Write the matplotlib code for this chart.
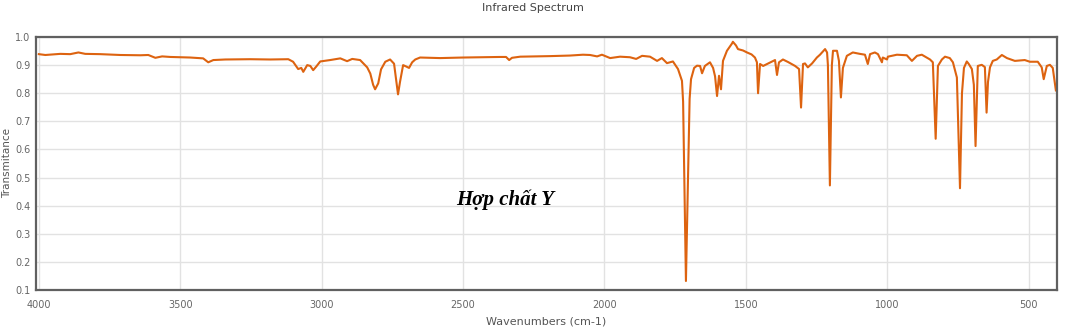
import numpy as np
import matplotlib.pyplot as plt

# IR spectrum of compound Y (wavenumber in cm-1, transmittance)
wavenumbers = [
    4000, 3977, 3924, 3889, 3860, 3836, 3783, 3712, 3641, 3613, 3588, 3564,
    3535, 3465, 3419, 3401, 3383, 3341, 3253, 3182, 3118, 3101, 3083, 3072,
    3065, 3051, 3040, 3030, 3019, 3005, 2970, 2934, 2910, 2892, 2864, 2839,
    2828, 2818, 2811, 2800, 2790, 2775, 2758, 2744, 2737, 2730, 2723, 2712,
    2701, 2691, 2680, 2669, 2652, 2581, 2500, 2440, 2369, 2348, 2337, 2327,
    2298, 2192, 2122, 2076, 2051, 2026, 2009, 1980, 1945, 1910, 1888, 1867,
    1839, 1814, 1797, 1779, 1758, 1740, 1726, 1722, 1712, 1699, 1694, 1683,
    1673, 1662, 1655, 1645, 1627, 1616, 1609, 1602, 1595, 1588, 1581, 1567,
    1549, 1546, 1535, 1528, 1510, 1496, 1480, 1468, 1461, 1457, 1450, 1439, 1425, 1397,
    1390, 1383, 1369, 1351, 1326, 1312, 1305, 1298, 1291, 1281, 1266, 1249,
    1238, 1220, 1213, 1210, 1203, 1196, 1192, 1178, 1171, 1164, 1157, 1143,
    1122, 1097, 1079, 1069, 1061, 1044, 1033, 1019, 1016, 1001, 998, 966,
    931, 913, 895, 878, 849, 839, 829, 821, 807, 796, 779, 768, 754, 743,
    736, 729, 719, 712, 701, 694, 688, 680, 666, 655, 649, 644, 637, 627,
    613, 595, 577, 549, 514, 496, 468, 454, 447, 436, 425, 415, 404,
]
transmittance = [
    0.939, 0.936, 0.940, 0.939, 0.945, 0.940, 0.939, 0.936, 0.935, 0.936, 0.926, 0.931,
    0.929, 0.927, 0.924, 0.910, 0.918, 0.920, 0.921, 0.920, 0.921, 0.912, 0.886, 0.890,
    0.876, 0.900, 0.897, 0.882, 0.895, 0.913, 0.918, 0.924, 0.914, 0.922, 0.918, 0.892,
    0.870, 0.830, 0.814, 0.835, 0.885, 0.912, 0.920, 0.905, 0.850, 0.796, 0.840, 0.900,
    0.895, 0.890, 0.910, 0.920, 0.927, 0.925, 0.927, 0.928, 0.929, 0.929, 0.918, 0.926,
    0.930, 0.932, 0.934, 0.937, 0.936, 0.931, 0.937, 0.925, 0.930, 0.928, 0.922, 0.933,
    0.930, 0.915, 0.925, 0.907, 0.913, 0.886, 0.844, 0.770, 0.132, 0.780, 0.850, 0.890,
    0.898, 0.897, 0.871, 0.897, 0.910, 0.890, 0.860, 0.790, 0.862, 0.814, 0.915, 0.951,
    0.977, 0.983, 0.970, 0.957, 0.952, 0.945, 0.938, 0.927, 0.910, 0.800, 0.904, 0.897, 0.904, 0.918,
    0.865, 0.910, 0.920, 0.911, 0.897, 0.886, 0.749, 0.904, 0.906, 0.892, 0.906, 0.927,
    0.937, 0.957, 0.945, 0.900, 0.472, 0.900, 0.951, 0.951, 0.915, 0.785, 0.890, 0.933,
    0.945, 0.940, 0.937, 0.904, 0.939, 0.945, 0.939, 0.910, 0.927, 0.920, 0.930, 0.937,
    0.935, 0.915, 0.933, 0.937, 0.920, 0.910, 0.638, 0.897, 0.920, 0.930, 0.925, 0.910, 0.856, 0.462,
    0.800, 0.890, 0.913, 0.904, 0.886, 0.830, 0.612, 0.897, 0.901, 0.893, 0.731, 0.840, 0.892, 0.915,
    0.920, 0.936, 0.925, 0.915, 0.918, 0.912, 0.912, 0.892, 0.850, 0.897, 0.901, 0.890, 0.810,
]

x_ticks = [4000, 3500, 3000, 2500, 2000, 1500, 1000, 500]
y_ticks = [0.1, 0.2, 0.3, 0.4, 0.5, 0.6, 0.7, 0.8, 0.9, 1.0]

W, H = 1066, 328
fig = plt.figure(figsize=(W / 100, H / 100), dpi=100)
ax = fig.add_axes([36 / W, 1 - 290 / H, (1057 - 36) / W, (290 - 37) / H])

ax.plot(wavenumbers, transmittance, color="#DD6310", lw=1.5)

ax.set_xlim(4010, 400)
ax.set_ylim(0.1, 1.0)
ax.set_xticks(x_ticks)
ax.set_yticks(y_ticks)
ax.set_yticklabels([f"{v:.1f}" for v in y_ticks])
ax.grid(True, color="#e2e2e2", lw=1)
ax.tick_params(length=0, labelsize=7, colors="#666666")
ax.tick_params(axis="y", pad=4)
ax.tick_params(axis="x", pad=7)
for sp in ax.spines.values():
    sp.set_color("#606060")
    sp.set_linewidth(1.6)

# axis titles placed by hand so they stay inside the small canvas
fig.text(546 / W, 1 - 321 / H, "Wavenumbers (cm-1)", ha="center", va="center",
         fontsize=8, color="#555555")
fig.text(7 / W, 1 - 163 / H, "Transmitance", ha="center", va="center",
         rotation=90, fontsize=7.5, color="#555555")
fig.text(0.5, 1 - 8 / H, "Infrared Spectrum", ha="center", va="center",
         fontsize=8, color="#444444")

ax.text(2351, 0.421, "Hợp chất Y", ha="center", va="center",
        fontsize=15, fontweight="bold", fontstyle="italic",
        family="Liberation Serif", color="black")

fig.savefig("out.png", dpi=100)
